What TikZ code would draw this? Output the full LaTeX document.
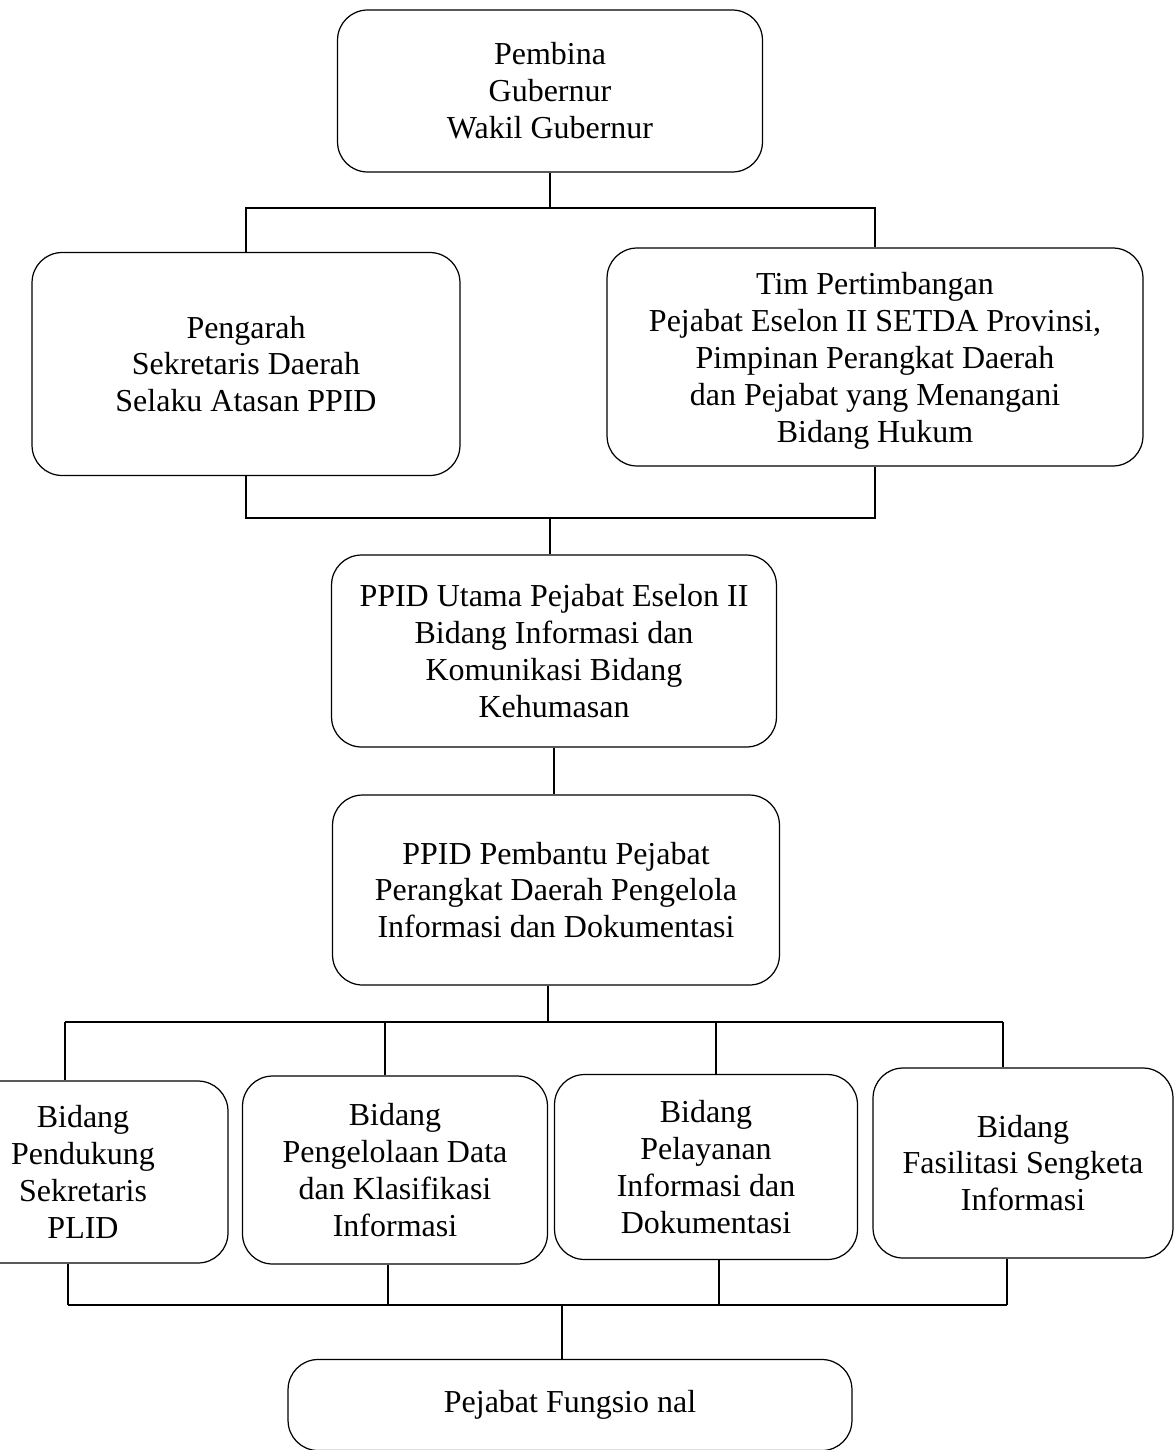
\documentclass[tikz,border=0pt]{standalone}
\usepackage{fontspec}
\setmainfont{Liberation Serif}

\begin{document}
\begin{tikzpicture}[x=0.02cm, y=-0.02cm,
  unit/.style={draw, rounded corners=0.6cm, line width=0.7pt, align=center,
    inner sep=0pt, font=\fontsize{18.2}{21}\selectfont},
  link/.style={line width=1.1pt}
]
\useasboundingbox (0,0) rectangle (1175,1450);

% Pembina
\node[unit, minimum width=8.5cm, minimum height=3.24cm] (pembina) at (550,91)
  {Pembina\\Gubernur\\Wakil Gubernur};

% Pengarah
\node[unit, minimum width=8.56cm, minimum height=4.46cm] (pengarah) at (246,364)
  {Pengarah\\Sekretaris Daerah\\Selaku Atasan PPID};

% Tim Pertimbangan
\node[unit, minimum width=10.72cm, minimum height=4.36cm] (tim) at (875,357)
  {\rule{0pt}{0.6cm}Tim Pertimbangan\\Pejabat Eselon II SETDA Provinsi,\\Pimpinan Perangkat Daerah\\dan Pejabat yang Menangani\\Bidang Hukum};

% PPID Utama
\node[unit, minimum width=8.9cm, minimum height=3.84cm] (utama) at (554,651)
  {PPID Utama Pejabat Eselon II\\Bidang Informasi dan\\Komunikasi Bidang\\Kehumasan};

% PPID Pembantu
\node[unit, minimum width=8.94cm, minimum height=3.8cm] (pembantu) at (556,890)
  {PPID Pembantu Pejabat\\Perangkat Daerah Pengelola\\Informasi dan Dokumentasi};

% Bidang row
\node[unit, minimum width=5.8cm, minimum height=3.64cm] (pendukung) at (83,1172)
  {Bidang\\Pendukung\\Sekretaris\\PLID};
\node[unit, minimum width=6.1cm, minimum height=3.76cm] (pengelolaan) at (395,1170)
  {Bidang\\Pengelolaan Data\\dan Klasifikasi\\Informasi};
\node[unit, minimum width=6.06cm, minimum height=3.7cm] (pelayanan) at (706,1167)
  {Bidang\\Pelayanan\\Informasi dan\\Dokumentasi};
\node[unit, minimum width=6cm, minimum height=3.8cm] (fasilitasi) at (1023,1163)
  {Bidang\\Fasilitasi Sengketa\\Informasi};

% Pejabat Fungsional
\node[unit, minimum width=11.28cm, minimum height=1.82cm] (fungsional) at (570,1405)
  {Pejabat Fungsio nal};

% Upper buses
\coordinate (busA) at (550,208);
\coordinate (busB) at (550,518);
\draw[link] (pembina.south) -- (busA);
\draw[link] (pengarah.north) |- (busA) -| (tim.north);
\draw[link] (pengarah.south) |- (busB) -| (tim.south);
\draw[link] (busB) -- (busB |- utama.north);
\draw[link] (utama.south) -- (utama.south |- pembantu.north);

% Bus to the Bidang row
\coordinate (busC) at (548,1022);
\coordinate (c1) at (65,1022);
\coordinate (c2) at (385,1022);
\coordinate (c3) at (716,1022);
\coordinate (c4) at (1003,1022);
\draw[link] (pembantu.south -| busC) -- (busC);
\draw[link] (c1) -- (c4);
\draw[link] (c1) -- (c1 |- pendukung.north);
\draw[link] (c2) -- (c2 |- pengelolaan.north);
\draw[link] (c3) -- (c3 |- pelayanan.north);
\draw[link] (c4) -- (c4 |- fasilitasi.north);

% Bus to Pejabat Fungsional
\coordinate (busD) at (562,1305);
\coordinate (d1) at (68,1305);
\coordinate (d2) at (388,1305);
\coordinate (d3) at (719,1305);
\coordinate (d4) at (1007,1305);
\draw[link] (d1) -- (d4);
\draw[link] (d1 |- pendukung.south) -- (d1);
\draw[link] (d2 |- pengelolaan.south) -- (d2);
\draw[link] (d3 |- pelayanan.south) -- (d3);
\draw[link] (d4 |- fasilitasi.south) -- (d4);
\draw[link] (busD) -- (busD |- fungsional.north);

\end{tikzpicture}
\end{document}
